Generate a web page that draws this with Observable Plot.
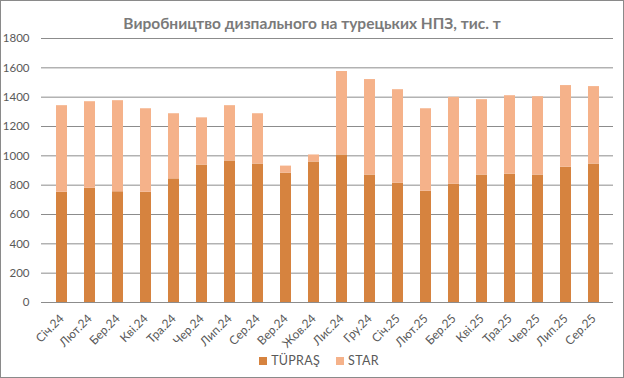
<!DOCTYPE html>
<html>
<head>
<meta charset="utf-8">
<script src="https://cdn.jsdelivr.net/npm/d3@7"></script>
<script src="https://cdn.jsdelivr.net/npm/@observablehq/plot@0.6"></script>
<style>
  html, body { margin: 0; padding: 0; background: #fff; }
  #frame { position: relative; width: 622px; height: 376px; border: 1px solid #8a8a8a; overflow: hidden; font-family: Lato, "Open Sans", sans-serif; }
  #title { position: absolute; left: 0; top: 13px; width: 622px; text-align: center; font-weight: bold; font-size: 15.5px; color: #7a7a7a; line-height: 18px; white-space: nowrap; }
  #chart { position: absolute; left: 0; top: 29px; }
  #legend { position: absolute; left: 0; width: 622px; top: 352px; font-size: 12.5px; line-height: 16px; color: #595959; display: flex; align-items: center; justify-content: center; padding-left: 30px; box-sizing: border-box; }
  #legend span.sw { display: inline-block; width: 8px; height: 8px; margin-right: 4px; }
  #legend span.lb { margin-right: 16px; letter-spacing: 0.3px; }
</style>
</head>
<body>
<div id="frame">
  <div id="title">Виробництво дизпального на турецьких НПЗ, тис. т</div>
  <div id="chart"></div>
  <div id="legend"></div>
</div>
<script>
const months = ["Січ.24","Лют.24","Бер.24","Кві.24","Тра.24","Чер.24","Лип.24","Сер.24","Вер.24","Жов.24","Лис.24","Гру.24","Січ.25","Лют.25","Бер.25","Кві.25","Тра.25","Чер.25","Лип.25","Сер.25"];
const tupras = [752, 779, 755, 752, 843, 937, 965, 944, 882, 958, 1006, 869, 814, 759, 807, 869, 875, 869, 923, 944];
const star   = [590, 590, 621, 569, 444, 322, 377, 343, 48, 48, 569, 651, 637, 562, 592, 514, 535, 534, 556, 528];
const seriesNames = ["TÜPRAŞ", "STAR"];
const seriesColors = ["#d6833f", "#f5b28a"];
const yTicks = [0, 200, 400, 600, 800, 1000, 1200, 1400, 1600, 1800];

const data = [];
months.forEach((m, i) => {
  data.push({month: m, series: seriesNames[0], value: tupras[i]});
  data.push({month: m, series: seriesNames[1], value: star[i]});
});

const plot = Plot.plot({
  width: 622,
  height: 321,
  marginTop: 8,
  marginBottom: 49,
  marginLeft: 40,
  marginRight: 10,
  style: {fontFamily: "Lato, 'Open Sans', sans-serif", fontSize: "11px", color: "#595959", background: "transparent"},
  x: {type: "band", domain: months, paddingInner: 0.616, paddingOuter: 0.308, label: null},
  y: {domain: [0, 1800], label: null},
  color: {domain: seriesNames, range: seriesColors},
  marks: [
    Plot.ruleY(yTicks, {stroke: "#8c8c8c", strokeWidth: 1}),
    Plot.barY(data, {x: "month", y: "value", fill: "series"}),
    Plot.axisY({ticks: yTicks, tickFormat: d => String(d), tickSize: 0, tickPadding: 12, label: null, fill: "#595959", fontSize: 11.5}),
    Plot.axisX({tickSize: 0, tickRotate: -45, tickPadding: 14, label: null, fill: "#595959", fontSize: 12})
  ]
});
document.getElementById("chart").appendChild(plot);

const legend = document.getElementById("legend");
seriesNames.forEach((s, i) => {
  const sw = document.createElement("span");
  sw.className = "sw";
  sw.style.background = seriesColors[i];
  const lb = document.createElement("span");
  lb.className = "lb";
  lb.textContent = s;
  legend.appendChild(sw);
  legend.appendChild(lb);
});
</script>
</body>
</html>
